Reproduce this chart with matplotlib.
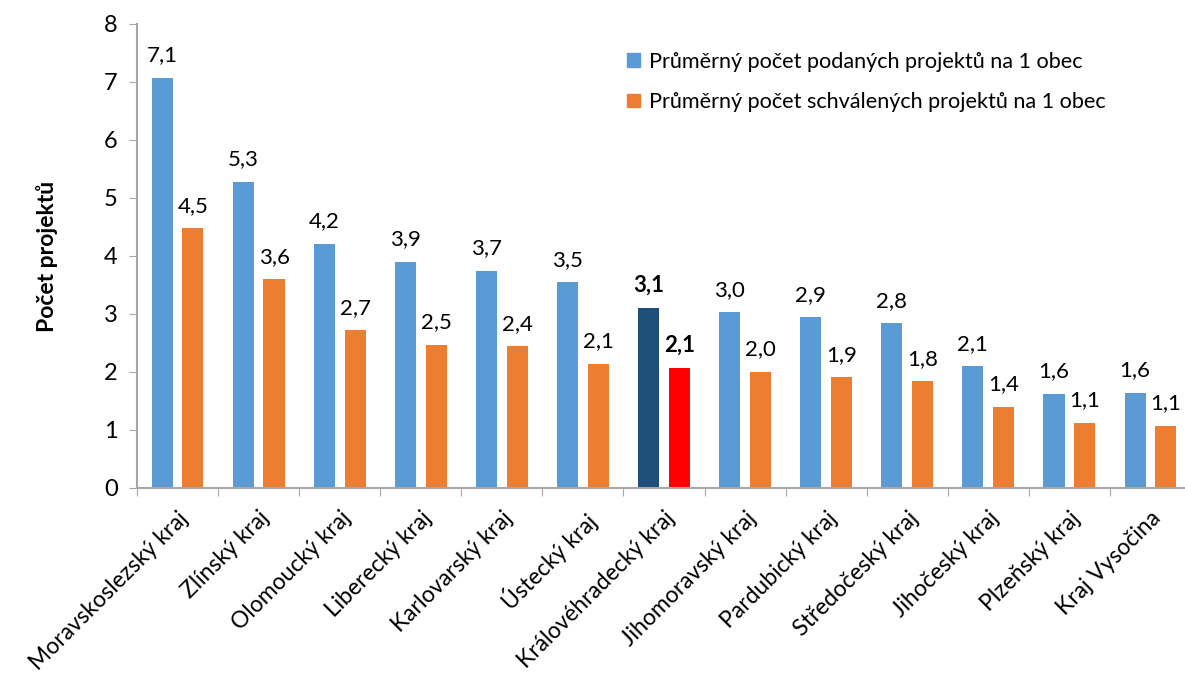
import matplotlib.pyplot as plt
import numpy as np

plt.rcParams['font.family'] = ['Lato', 'DejaVu Sans']

kraje = ['Moravskoslezský kraj', 'Zlínský kraj', 'Olomoucký kraj', 'Liberecký kraj',
         'Karlovarský kraj', 'Ústecký kraj', 'Královéhradecký kraj', 'Jihomoravský kraj',
         'Pardubický kraj', 'Středočeský kraj', 'Jihočeský kraj', 'Plzeňský kraj',
         'Kraj Vysočina']
podane = [7.07, 5.28, 4.21, 3.90, 3.74, 3.55, 3.10, 3.03, 2.94, 2.84, 2.10, 1.62, 1.64]
schvalene = [4.48, 3.60, 2.72, 2.47, 2.44, 2.14, 2.07, 2.00, 1.91, 1.84, 1.40, 1.12, 1.07]
zvyraznit = 'Královéhradecký kraj'

fig = plt.figure(figsize=(11.85, 6.81), dpi=100)
ax = fig.add_axes([137 / 1185, 1 - 488 / 681, 1054 / 1185, 464 / 681])

x = np.arange(len(kraje))
sirka = 0.26
posun = 0.19

c_mod = ['#1F4E79' if k == zvyraznit else '#5B9BD5' for k in kraje]
c_ora = ['#FF0000' if k == zvyraznit else '#ED7D31' for k in kraje]

b1 = ax.bar(x - posun, podane, sirka, color=c_mod, label='Průměrný počet podaných projektů na 1 obec')
b2 = ax.bar(x + posun, schvalene, sirka, color=c_ora, label='Průměrný počet schválených projektů na 1 obec')

# popisky hodnot
for i, k in enumerate(kraje):
    tucne = 'bold' if k == zvyraznit else 'normal'
    ax.annotate(f'{podane[i]:.1f}'.replace('.', ','), (x[i] - posun, podane[i]),
                xytext=(0, 9), textcoords='offset points', ha='center', va='bottom',
                fontsize=16, fontweight=tucne)
    ax.annotate(f'{schvalene[i]:.1f}'.replace('.', ','), (x[i] + posun, schvalene[i]),
                xytext=(0, 9), textcoords='offset points', ha='center', va='bottom',
                fontsize=16, fontweight=tucne)

ax.set_xlim(-0.5, len(kraje) - 0.5)
ax.set_ylim(0, 8)
ax.set_yticks(range(0, 9))
ax.tick_params(axis='y', labelsize=17, color='#A6A6A6', length=6, pad=8)

# hranice kategorii jako velke ticky, popisky na stredech
ax.set_xticks(np.arange(-0.5, len(kraje), 1))
ax.set_xticklabels([])
ax.set_xticks(x, minor=True)
ax.set_xticklabels(kraje, minor=True, rotation=45, ha='right', rotation_mode='anchor', fontsize=16.5)
ax.tick_params(axis='x', which='major', color='#A6A6A6', length=6)
ax.tick_params(axis='x', which='minor', length=0, pad=14)

for s in ['top', 'right']:
    ax.spines[s].set_visible(False)
for s in ['left', 'bottom']:
    ax.spines[s].set_color('#A6A6A6')
    ax.spines[s].set_linewidth(1.5)

ax.set_ylabel('Počet projektů', fontsize=16.5, fontweight='bold', labelpad=33)

h = [plt.Rectangle((0, 0), 1, 1, color='#5B9BD5'), plt.Rectangle((0, 0), 1, 1, color='#ED7D31')]
fig.legend(h, [b1.get_label(), b2.get_label()], loc='upper left', bbox_to_anchor=(0.513, 0.953),
           frameon=False, fontsize=15.6, handlelength=0.6, handleheight=0.6,
           handletextpad=0.4, labelspacing=0.95)

fig.savefig('out.png', dpi=100)
